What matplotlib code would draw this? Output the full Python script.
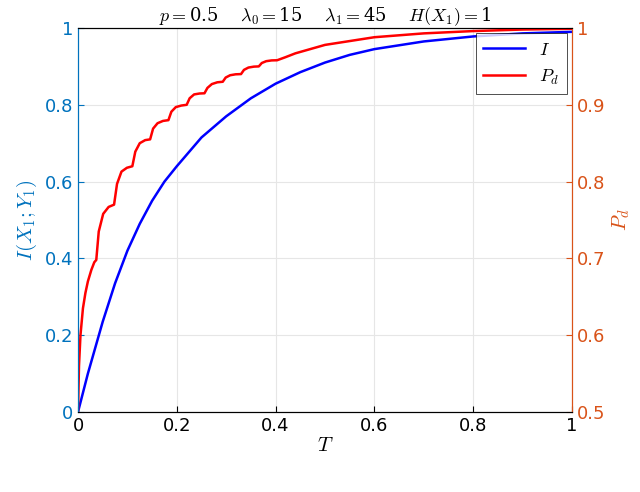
import matplotlib
matplotlib.use("Agg")
import matplotlib.pyplot as plt
import numpy as np

T_I = [0, 0.01, 0.02, 0.03, 0.05, 0.075, 0.1, 0.125, 0.15, 0.175, 0.2, 0.25, 0.3, 0.35, 0.4,
       0.45, 0.5, 0.55, 0.6, 0.7, 0.8, 0.9, 1.0]
I_vals = [0, 0.05, 0.1, 0.145, 0.235, 0.335, 0.42, 0.49, 0.55, 0.6, 0.64, 0.715, 0.77, 0.817, 0.855,
          0.885, 0.91, 0.93, 0.945, 0.965, 0.978, 0.986, 0.99]

T_P = [0, 0.002, 0.005, 0.01, 0.015, 0.02, 0.027, 0.033, 0.037,
       0.042, 0.051, 0.062, 0.073,
       0.079, 0.088, 0.099, 0.11,
       0.116, 0.125, 0.136, 0.146,
       0.152, 0.161, 0.172, 0.183,
       0.189, 0.198, 0.209, 0.22,
       0.226, 0.235, 0.246, 0.256,
       0.262, 0.271, 0.282, 0.293,
       0.299, 0.308, 0.319, 0.33,
       0.336, 0.345, 0.356, 0.366,
       0.372, 0.381, 0.392, 0.403,
       0.42, 0.44, 0.5, 0.6, 0.7, 0.8, 0.9, 1.0]
P_vals = [0.5, 0.56, 0.6, 0.635, 0.655, 0.67, 0.685, 0.695, 0.698,
          0.735, 0.758, 0.767, 0.77,
          0.797, 0.813, 0.818, 0.82,
          0.839, 0.85, 0.854, 0.855,
          0.869, 0.876, 0.879, 0.88,
          0.891, 0.897, 0.899, 0.90,
          0.9085, 0.9135, 0.9147, 0.915,
          0.922, 0.927, 0.9293, 0.93,
          0.9355, 0.9385, 0.9397, 0.94,
          0.9455, 0.9485, 0.9497, 0.95,
          0.9544, 0.9568, 0.9578, 0.958,
          0.962, 0.967, 0.978, 0.988, 0.993, 0.996, 0.998, 0.999]

lc = (0, 0.447, 0.741)
rc = (0.85, 0.325, 0.098)
plt.rcParams['mathtext.fontset'] = 'cm'
fig = plt.figure(figsize=(6.4, 4.92), dpi=100)
ax = fig.add_axes([78/640, 1-412/492, 494/640, 384/492])
ax2 = ax.twinx()
l1, = ax.plot(T_I, I_vals, color='blue', lw=1.8, label='$I$')
l2, = ax2.plot(T_P, P_vals, color='red', lw=1.8, label='$P_d$')
ax.set_xlim(0, 1); ax.set_ylim(0, 1); ax2.set_ylim(0.5, 1)
ax.set_xticks(np.arange(0, 1.01, 0.2)); ax.set_yticks(np.arange(0, 1.01, 0.2))
ax2.set_yticks(np.arange(0.5, 1.01, 0.1))
ax.set_xticklabels(['0', '0.2', '0.4', '0.6', '0.8', '1'])
ax.set_yticklabels(['0', '0.2', '0.4', '0.6', '0.8', '1'])
ax2.set_yticklabels(['0.5', '0.6', '0.7', '0.8', '0.9', '1'])
ax.grid(True, color=(0.9, 0.9, 0.9), lw=0.8)
for a in (ax, ax2):
    a.tick_params(direction='in', labelsize=13, length=4)
ax.tick_params(axis='y', colors=lc)
ax2.tick_params(axis='y', colors=rc)
ax.spines['left'].set_color(lc); ax2.spines['left'].set_color(lc)
ax2.spines['right'].set_color(rc); ax.spines['right'].set_color(rc)
ax.set_xlabel('$T$', fontsize=15, labelpad=0)
ax.set_ylabel('$I(X_1;Y_1)$', fontsize=15, color=lc)
ax2.set_ylabel('$P_d$', fontsize=15, color=rc)
ax.set_title(r'$p=$0.5    $\lambda_0=$15    $\lambda_1=$45    $H(X_1)=$1', fontsize=13, pad=3,
             fontfamily='DejaVu Serif')
leg = ax2.legend(handles=[l1, l2], loc='upper right', fontsize=13, fancybox=False,
                 edgecolor='black', borderaxespad=0.3, handlelength=2.3)
leg.get_frame().set_linewidth(0.6)
fig.savefig('out.png', dpi=100)
